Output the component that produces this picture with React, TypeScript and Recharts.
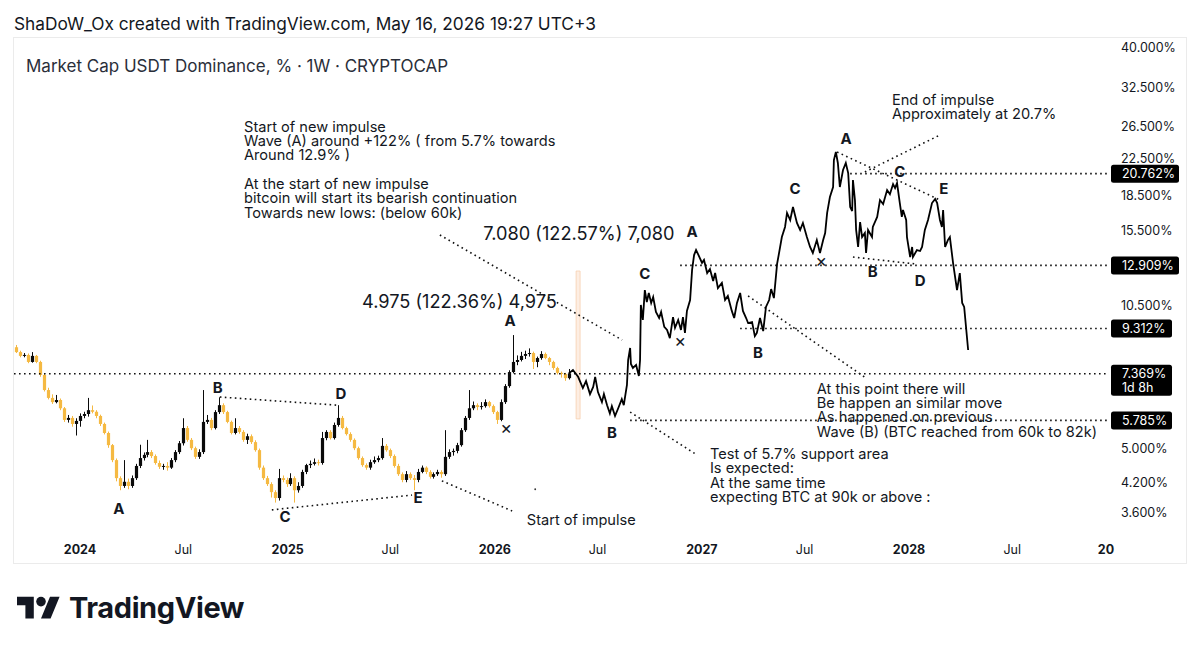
import React from 'react';
import { ComposedChart, Bar, Line, XAxis, YAxis, ReferenceLine, ReferenceDot, ReferenceArea } from 'recharts';

const FONT = "Inter, 'Liberation Sans', 'DejaVu Sans', sans-serif";
const INK = '#131722';
const UP = '#0a0a0a';
const DOWN = '#f5b942';

// weekly candles, first one = week -16 relative to 2024-01-01
const candleStartWeek = -16;
const opens = [8.45,8.24,8.08,8.12,7.83,8.08,7.83,7.32,6.77,6.50,6.36,6.43,6.16,5.80,5.86,5.68,
  5.77,5.92,5.98,6.10,6.05,5.92,5.68,5.42,5.09,4.71,
  4.29,4.12,4.21,4.12,4.29,4.57,4.76,4.84,4.91,4.81,
  4.64,4.55,4.57,4.53,4.71,4.91,5.14,5.56,5.23,5.01,
  4.79,4.91,5.74,5.80,5.56,6.04,6.26,6.04,5.74,5.42,
  5.56,5.45,5.23,5.33,5.17,4.96,4.53,4.29,4.16,3.99,
  3.87,4.29,4.25,4.16,4.29,4.03,4.12,4.43,4.59,4.62,
  4.66,4.64,5.28,5.45,5.28,5.65,5.86,5.56,5.39,5.23,
  5.01,4.76,4.59,4.53,4.66,4.71,4.76,5.07,4.96,4.81,
  4.57,4.38,4.25,4.38,4.29,4.25,4.43,4.53,4.43,4.32,
  4.38,4.43,4.38,4.79,4.91,4.94,5.09,5.50,5.86,6.16,
  6.26,6.20,6.23,6.36,6.23,6.04,5.80,6.36,6.91,7.43,
  7.83,7.91,8.08,8.16,8.20,7.83,7.99,8.16,7.99,7.83,
  7.59,7.40,7.36,7.20];
const highs = [8.55,8.30,8.20,8.18,8.24,8.12,7.88,7.38,6.85,6.62,6.60,6.48,6.20,5.95,5.92,5.85,
  6.00,6.05,6.50,6.25,6.10,5.96,5.72,5.46,5.12,4.75,
  4.33,4.71,4.28,4.35,4.62,5.10,4.90,5.23,4.96,4.85,
  4.70,4.62,4.66,4.76,4.96,5.20,5.85,5.62,5.28,5.05,
  4.98,6.77,5.95,5.86,6.10,6.52,6.32,6.08,5.78,5.85,
  5.62,5.50,5.40,5.38,5.22,5.00,4.58,4.34,4.20,4.03,
  4.50,4.35,4.30,4.40,4.33,4.20,4.48,4.62,4.70,4.75,
  4.72,5.45,5.50,5.50,5.72,6.26,5.92,5.60,5.44,5.27,
  5.05,4.80,4.63,4.72,4.80,4.82,5.28,5.12,5.00,4.85,
  4.62,4.42,4.45,4.42,4.36,4.50,4.58,4.56,4.47,4.42,
  4.48,4.47,5.50,4.98,5.00,5.15,5.56,5.92,6.77,6.38,
  6.32,6.36,6.45,6.40,6.28,6.08,6.45,6.98,7.50,9.00,
  8.10,8.25,8.30,8.40,8.26,8.05,8.28,8.22,8.04,7.88,
  7.64,7.45,7.40,7.55];
const lows = [8.20,8.02,8.02,7.78,7.80,7.78,7.25,6.72,6.45,6.30,6.32,6.10,5.74,5.72,5.60,5.35,
  5.60,5.85,5.90,6.00,5.85,5.62,5.38,5.02,4.66,4.22,
  4.03,4.08,4.05,4.08,4.25,4.52,4.70,4.78,4.76,4.60,
  4.50,4.48,4.46,4.50,4.66,4.86,5.08,5.18,4.96,4.74,
  4.74,4.86,5.68,5.50,5.52,5.98,5.98,5.70,5.38,5.38,
  5.40,5.18,5.12,5.12,4.92,4.48,4.25,4.12,3.88,3.78,
  3.82,4.20,4.10,4.12,3.78,3.98,4.08,4.38,4.52,4.58,
  4.58,4.60,5.22,5.24,5.24,5.60,5.52,5.35,5.18,4.96,
  4.72,4.55,4.48,4.48,4.62,4.66,4.72,4.92,4.76,4.53,
  4.34,4.20,4.20,4.25,4.03,4.20,4.40,4.38,4.28,4.28,
  4.34,4.30,4.34,4.74,4.82,4.88,5.05,5.45,5.80,6.10,
  6.10,6.12,6.18,6.18,5.98,5.68,5.76,6.30,6.85,7.38,
  7.70,7.85,7.95,8.05,7.55,7.62,7.92,7.94,7.70,7.52,
  7.34,7.22,7.10,7.15];
const closes = [8.24,8.08,8.12,7.83,8.08,7.83,7.32,6.77,6.50,6.36,6.43,6.16,5.80,5.86,5.68,5.77,
  5.92,5.98,6.10,6.05,5.92,5.68,5.42,5.09,4.71,4.29,
  4.12,4.21,4.12,4.29,4.57,4.76,4.84,4.91,4.81,4.64,
  4.55,4.57,4.53,4.71,4.91,5.14,5.56,5.23,5.01,4.79,
  4.91,5.74,5.80,5.56,6.04,6.26,6.04,5.74,5.42,5.56,
  5.45,5.23,5.33,5.17,4.96,4.53,4.29,4.16,3.99,3.87,
  4.29,4.25,4.16,4.29,4.03,4.12,4.43,4.59,4.62,4.66,
  4.64,5.28,5.45,5.28,5.65,5.86,5.56,5.39,5.23,5.01,
  4.76,4.59,4.53,4.66,4.71,4.76,5.07,4.96,4.81,4.57,
  4.38,4.25,4.38,4.29,4.25,4.43,4.53,4.43,4.32,4.38,
  4.43,4.38,4.79,4.91,4.94,5.09,5.50,5.86,6.16,6.26,
  6.20,6.23,6.36,6.23,6.04,5.80,6.36,6.91,7.43,7.83,
  7.91,8.08,8.16,8.20,7.83,7.99,8.16,7.99,7.83,7.59,
  7.40,7.36,7.20,7.37];

// hand-drawn projection (weeks since 2024-01-01, %)
const projWeeks = [123,124.1,125.4,126.6,127.4,128.4,129.2,129.7,130.4,131.4,
  131.9,132.7,133.4,133.9,134.7,135.4,136.4,136.9,137.7,138.0,
  138.5,138.7,139.2,140.0,140.7,141.0,141.2,141.7,142.2,142.7,
  143.2,143.8,144.3,145.0,145.8,146.3,147.1,147.8,148.5,149.3,
  149.8,150.6,151.3,151.8,152.3,152.8,153.6,154.1,154.6,155.1,
  155.6,156.6,157.1,157.9,158.6,159.4,159.9,160.6,161.6,162.4,
  163.1,164.1,164.7,165.4,166.2,166.9,167.7,168.2,169.2,169.9,
  170.4,171.2,172.0,172.7,173.5,174.0,174.7,175.5,176.0,176.7,
  177.5,178.0,178.8,179.5,180.5,181.3,182.0,183.0,183.8,184.5,
  185.5,186.3,187.1,187.6,188.1,188.8,189.6,189.8,190.3,190.8,
  191.3,192.1,192.8,193.4,193.9,194.4,194.6,195.1,195.4,195.9,
  196.4,196.9,197.6,197.9,198.4,199.4,199.6,200.7,201.4,202.2,
  203.2,203.9,204.7,205.2,205.7,206.4,206.9,207.2,208.0,208.2,
  209.0,209.5,209.7,210.7,211.5,212.0,212.7,213.5,214.5,215.3,
  215.8,216.5,217.0,217.3,217.8,218.5,219.0,219.8,220.8,221.5,
  222.1,222.6,223.6];
const projValues = [7.37,7.51,7.25,6.84,7.09,6.63,6.88,7.25,6.70,6.36,
  6.63,6.26,6.00,6.23,5.92,6.13,6.46,6.26,6.95,7.91,
  8.42,7.75,7.59,7.71,7.28,7.91,10.52,9.73,11.36,10.68,
  11.19,10.63,10.96,10.14,9.83,10.14,9.39,9.24,8.86,9.88,
  9.34,9.73,9.24,9.88,9.10,10.20,10.79,12.61,13.62,13.98,
  13.69,13.08,13.28,12.41,12.67,11.91,12.41,11.48,11.79,10.79,
  11.02,10.20,9.83,10.63,11.19,10.20,9.83,9.58,9.63,8.95,
  9.10,9.83,9.19,10.41,10.79,11.42,10.90,13.01,13.77,14.95,
  15.75,16.94,16.33,17.47,16.08,15.51,16.08,14.95,14.20,13.77,
  14.72,13.77,14.72,15.27,16.94,18.39,19.37,22.28,23.22,21.94,
  19.37,21.16,21.94,20.83,17.47,17.11,20.09,18.11,15.51,14.20,
  16.16,14.95,15.27,13.77,15.51,14.95,15.75,16.59,18.11,17.74,
  19.07,18.67,19.67,19.27,19.77,17.83,16.59,17.20,16.33,14.95,
  13.48,14.20,13.48,13.98,13.91,14.20,15.51,16.33,17.83,18.21,
  17.83,16.33,15.75,17.20,14.20,14.72,14.95,13.08,11.36,12.41,
  10.63,10.41,8.33];

const xTickWeeks = [0, 26.0, 52.29, 78.14, 104.43, 130.29, 156.57, 182.43, 208.71, 234.71, 258.3];
const xTickLabels = ['2024', 'Jul', '2025', 'Jul', '2026', 'Jul', '2027', 'Jul', '2028', 'Jul', '20'];
const yTicks = [40, 32.5, 26.5, 22.5, 18.5, 15.5, 10.5, 5, 4.2, 3.6];

const X_MIN = -16.62;
const X_MAX = 258.56;
const Y_MIN = 3.246;
const Y_MAX = 41.91;

// horizontal dotted price levels
const levelValues = [20.762, 12.909, 9.312, 7.369, 5.785];
const levelStart = [193.9, 151.1, 166.2, -16.62, 138.5];
const levelSub = ['', '', '', '1d 8h', ''];

// dotted trend / pointer lines
const segW1 = [35.2, 48.3, 91.1, 90.6, 138.5, 168.2, 190.6, 194.6, 197.6];
const segV1 = [6.53, 3.64, 4.23, 15.11, 6.04, 11.02, 23.22, 13.48, 20.94];
const segW2 = [64.7, 83.6, 108.8, 136.5, 155.3, 197.9, 216.5, 210.2, 216.5];
const segV2 = [6.26, 3.93, 3.62, 8.77, 4.84, 7.20, 18.11, 13.01, 25.36];

// stray drawing dot
const dotW = [114.6];
const dotV = [4.05];

// wave labels
const waveText = ['A', 'B', 'C', 'D', 'E', 'A', '×', 'B', 'C', 'A', '×', 'B', 'C', '×', 'A', 'C', 'B', 'E', 'D'];
const waveW = [9.8, 34.7, 51.6, 65.7, 85.1, 108.3, 107.3, 133.9, 142.2, 154.1, 151.1, 170.7, 180.0, 186.6, 192.9, 206.4, 199.6, 217.5, 211.5];
const waveV = [3.67, 6.84, 3.52, 6.63, 3.87, 9.68, 5.59, 5.42, 12.35, 15.35, 8.77, 8.21, 19.17, 13.21, 24.84, 20.94, 12.48, 19.17, 11.91];

// text notes
const noteLines = [
  ['Start of new impulse', 'Wave (A) around +122% ( from 5.7% towards', 'Around 12.9% )', '', 'At the start of new impulse', 'bitcoin will start its bearish continuation', 'Towards new lows: (below 60k)'],
  ['7.080 (122.57%) 7,080'],
  ['4.975 (122.36%) 4,975'],
  ['End of impulse', 'Approximately at 20.7%'],
  ['At this point there will', 'Be happen an similar move', 'As happened on previous', 'Wave (B) (BTC reached from 60k to 82k)'],
  ['Test of 5.7% support area', 'Is expected:', 'At the same time', 'expecting BTC at 90k or above :'],
  ['Start of impulse'],
];
const noteW = [41.3, 101.5, 71.0, 204.4, 185.5, 158.6, 112.5];
const noteV = [26.44, 15.19, 10.68, 30.40, 6.81, 4.86, 3.44];
const noteSize = [14.6, 18.2, 18.2, 14.6, 14.6, 14.6, 14.6];

const candleRows = closes.map((c, i) => ({
  w: candleStartWeek + i, o: opens[i], h: highs[i], l: lows[i], c, range: [lows[i], highs[i]],
}));
const projRows = projWeeks.map((w, i) => ({ w, proj: projValues[i] }));
const chartData = [...candleRows, ...projRows];

function Candle(props: any) {
  const { x, y, width, height, payload } = props;
  if (!payload || payload.o == null || y == null || height == null) return null;
  const { o, c, h, l } = payload;
  const top = Math.min(y, y + height);
  const bot = Math.max(y, y + height);
  const span = Math.log(h) - Math.log(l) || 1;
  const py = (v: number) => top + ((Math.log(h) - Math.log(v)) / span) * (bot - top);
  const color = c >= o ? UP : DOWN;
  const bTop = py(Math.max(o, c));
  const bBot = py(Math.min(o, c));
  const cx = Math.round(x + (width || 0) / 2) + 0.5;
  return (
    <g>
      <line x1={cx} x2={cx} y1={top} y2={bot} stroke={color} strokeWidth={1} />
      <rect x={cx - 1.6} y={bTop} width={3.2} height={Math.max(1, bBot - bTop)} fill={color} />
    </g>
  );
}

function YTick(props: any) {
  const { x, y, payload } = props;
  return (
    <text x={x} y={y} dy={4.5} textAnchor="start" fontSize={12.5} fontFamily={FONT} fill={INK}>
      {Number(payload.value).toFixed(3)}%
    </text>
  );
}

function XTick(props: any) {
  const { x, y, payload } = props;
  const idx = xTickWeeks.indexOf(payload.value);
  const label = idx >= 0 ? xTickLabels[idx] : '';
  return (
    <text x={x} y={y + 17} dy={4.5} textAnchor="middle" fontSize={12.5} fontFamily={FONT}
      fontWeight={label === 'Jul' ? 400 : 700} fill={INK}>
      {label}
    </text>
  );
}

function PriceTag(props: any) {
  const { viewBox, text, sub } = props;
  if (!viewBox) return null;
  const xr = viewBox.x + viewBox.width;
  const yc = viewBox.y;
  const w = 19 + 7 * text.length;
  const h = sub ? 31 : 18;
  return (
    <g>
      <rect x={xr + 4} y={yc - 9} width={w} height={h} rx={2.5} fill="#000" />
      <text x={xr + 15} y={yc} dy={4.5} fontSize={12.5} fontFamily={FONT} fill="#fff">{text}</text>
      {sub ? (
        <text x={xr + 15} y={yc + 14} dy={4.5} fontSize={12.5} fontFamily={FONT} fill="#fff">{sub}</text>
      ) : null}
    </g>
  );
}

function Letter(props: any) {
  const { viewBox, text, size, weight } = props;
  if (!viewBox) return null;
  const x = viewBox.x + viewBox.width / 2;
  const y = viewBox.y + viewBox.height / 2;
  return (
    <text x={x} y={y} dy={size * 0.36} textAnchor="middle" fontSize={size} fontWeight={weight} fontFamily={FONT} fill={INK}>
      {text}
    </text>
  );
}

function Note(props: any) {
  const { viewBox, lines, size } = props;
  if (!viewBox) return null;
  const x = viewBox.x + viewBox.width / 2;
  const y = viewBox.y + viewBox.height / 2;
  const lh = lines.length > 1 ? 14.3 : size * 1.2;
  return (
    <foreignObject x={x} y={y - lh / 2} width={460} height={lines.length * lh + 8} style={{ overflow: 'visible' }}>
      <div style={{ fontFamily: FONT, fontSize: size, lineHeight: lh + 'px', color: INK, whiteSpace: 'pre', margin: 0, padding: 0 }}>
        {lines.join('\n')}
      </div>
    </foreignObject>
  );
}

function TvLogo() {
  return (
    <svg width={43.2} height={33.6} viewBox="0 0 36 28" style={{ position: 'absolute', left: 17, top: 592 }}>
      <path d="M14 22H7V11H0V4h14v18zM28 22h-8l7.5-18h8L28 22z" fill="#131722" />
      <circle cx="20" cy="8" r="4" fill="#131722" />
    </svg>
  );
}

export default function App() {
  return (
    <div style={{ position: 'fixed', left: 0, top: 0, width: 1200, height: 652, background: '#fff', overflow: 'hidden' }}>
      <div style={{ position: 'absolute', left: 14, top: 14, fontFamily: FONT, fontSize: 17.3, lineHeight: '20px', color: INK, whiteSpace: 'nowrap' }}>
        ShaDoW_Ox created with TradingView.com, May 16, 2026 19:27 UTC+3
      </div>
      <div style={{ position: 'absolute', left: 13, top: 37, width: 1172, height: 525, border: '1px solid #ebebeb' }} />
      <div style={{ position: 'absolute', left: 14, top: 38 }}>
        <ComposedChart width={1172} height={525} data={chartData} margin={{ top: 0, right: 0, bottom: 0, left: 0 }}>
          <XAxis dataKey="w" type="number" domain={[X_MIN, X_MAX]} allowDataOverflow ticks={xTickWeeks} interval={0}
            tick={<XTick />} tickLine={false} axisLine={false} height={31} tickSize={0} tickMargin={0} />
          <YAxis orientation="right" scale="log" type="number" domain={[Y_MIN, Y_MAX]} allowDataOverflow ticks={yTicks}
            interval={0} tick={<YTick />} tickLine={false} axisLine={false} width={79} tickSize={0} tickMargin={14} />
          <ReferenceArea x1={124.9} x2={125.9} y1={5.83} y2={12.54} fill="#fdeee3" fillOpacity={1} stroke="#f8d0b0"
            strokeWidth={0.8} ifOverflow="visible" />
          {segW1.map((w1, i) => (
            <ReferenceLine key={'seg' + i} segment={[{ x: w1, y: segV1[i] }, { x: segW2[i], y: segV2[i] }]}
              stroke="#111" strokeWidth={1.6} strokeDasharray="1.6 3.4" ifOverflow="visible" />
          ))}
          {levelValues.map((v, i) => (
            <ReferenceLine key={'lvl' + i} segment={[{ x: levelStart[i], y: v }, { x: X_MAX, y: v }]}
              stroke="#111" strokeWidth={1.6} strokeDasharray="1.6 3.4" ifOverflow="visible"
              label={<PriceTag text={v.toFixed(3) + '%'} sub={levelSub[i]} />} />
          ))}
          {dotW.map((w, i) => (
            <ReferenceDot key={'dot' + i} x={w} y={dotV[i]} r={0.9} fill="#333" stroke="none" ifOverflow="visible" />
          ))}
          <Bar dataKey="range" barSize={3} isAnimationActive={false} shape={(p: any) => <Candle {...p} />} />
          <Line dataKey="proj" type="linear" stroke="#000" strokeWidth={1.8} dot={false} activeDot={false}
            connectNulls isAnimationActive={false} />
          {waveText.map((t, i) => (
            <ReferenceDot key={'wv' + i} x={waveW[i]} y={waveV[i]} r={1} fill="none" stroke="none" ifOverflow="visible"
              label={<Letter text={t} size={t === '×' ? 18 : 15} weight={t === '×' ? 400 : 700} />} />
          ))}
          {noteLines.map((lines, i) => (
            <ReferenceDot key={'nt' + i} x={noteW[i]} y={noteV[i]} r={1} fill="none" stroke="none" ifOverflow="visible"
              label={<Note lines={lines} size={noteSize[i]} />} />
          ))}
        </ComposedChart>
      </div>
      <div style={{ position: 'absolute', left: 26, top: 57, fontFamily: FONT, fontSize: 17, lineHeight: '18px', color: '#2a2e39', whiteSpace: 'nowrap' }}>
        Market Cap USDT Dominance, % · 1W · CRYPTOCAP
      </div>
      <TvLogo />
      <div style={{ position: 'absolute', left: 69, top: 591, fontFamily: FONT, fontSize: 29, fontWeight: 700, lineHeight: '34px', color: '#131722', letterSpacing: -0.4 }}>
        TradingView
      </div>
    </div>
  );
}
